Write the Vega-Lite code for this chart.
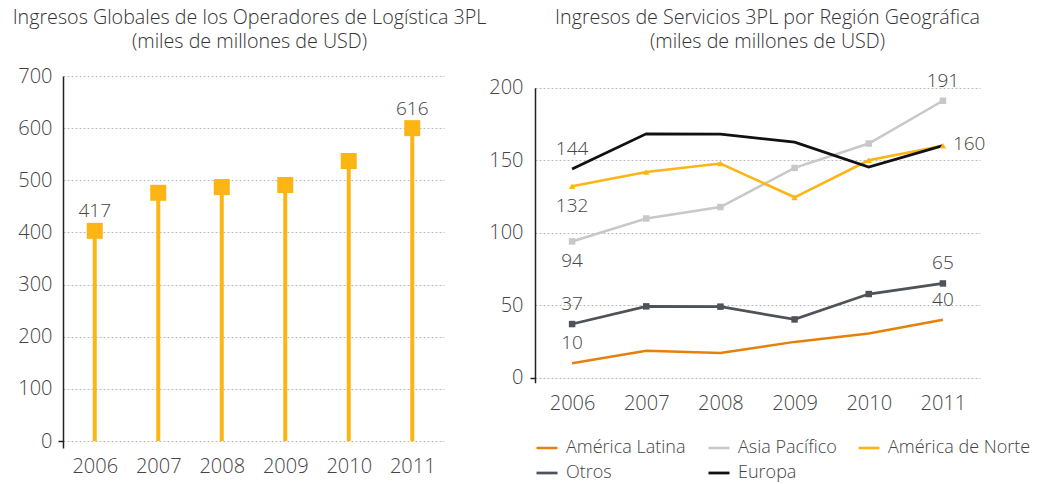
{
  "$schema": "https://vega.github.io/schema/vega-lite/v6.json",
  "padding": {"left": 12, "top": 8, "right": 0, "bottom": 0},
  "spacing": 1,
  "background": "white",
  "hconcat": [
    {
      "width": 381,
      "height": 372,
      "title": {"text": ["Ingresos Globales de los Operadores de Logística 3PL", "(miles de millones de USD)"], "offset": 14, "dx": -4},
      "data": {"values": [
        {"year": "2006", "value": 403, "label": "417"},
        {"year": "2007", "value": 476, "label": null},
        {"year": "2008", "value": 487, "label": null},
        {"year": "2009", "value": 491, "label": null},
        {"year": "2010", "value": 537, "label": null},
        {"year": "2011", "value": 600, "label": "616"}
      ]},
      "encoding": {
        "x": {"field": "year", "type": "ordinal", "scale": {"type": "point", "padding": 0.5},
          "axis": {"domain": false, "ticks": false, "grid": false, "labelPadding": 8, "labelAngle": 0, "title": null}}
      },
      "layer": [
        {
          "mark": {"type": "rule", "color": "#FDB515", "strokeWidth": 4},
          "encoding": {
            "y": {"field": "value", "type": "quantitative", "scale": {"domain": [-13.4, 700], "nice": false, "zero": false},
              "axis": {"values": [0, 100, 200, 300, 400, 500, 600, 700], "grid": true, "gridDash": [2, 2], "gridColor": "#bbbbbb",
                "domainColor": "#222222", "domainWidth": 1.5, "title": null, "labelPadding": 6, "tickSize": 5, "tickWidth": 1.5,
                "tickColor": {"condition": {"test": "datum.value === 0", "value": "#222222"}, "value": "transparent"}}},
            "y2": {"datum": 0}
          }
        },
        {
          "mark": {"type": "point", "shape": "square", "filled": true, "size": 256, "color": "#FDB515", "opacity": 1},
          "encoding": {"y": {"field": "value", "type": "quantitative"}}
        },
        {
          "transform": [{"filter": "datum.label != null"}],
          "mark": {"type": "text", "dy": -19.5, "fontSize": 19, "color": "#444444"},
          "encoding": {"y": {"field": "value", "type": "quantitative"}, "text": {"field": "label"}}
        },
        {
          "mark": {"type": "rule", "color": "#222222", "strokeWidth": 1.5},
          "encoding": {"y": {"datum": 0, "type": "quantitative"}}
        }
      ]
    },
    {
      "width": 445,
      "height": 306.7,
      "title": {"text": ["Ingresos de Servicios 3PL por Región Geográfica", "(miles de millones de USD)"], "offset": 20, "dx": 10},
      "data": {"values": [
        {"year": "2006", "serie": "América Latina", "value": 10, "label": "10"},
        {"year": "2007", "serie": "América Latina", "value": 18.5, "label": null},
        {"year": "2008", "serie": "América Latina", "value": 17, "label": null},
        {"year": "2009", "serie": "América Latina", "value": 24.7, "label": null},
        {"year": "2010", "serie": "América Latina", "value": 30.5, "label": null},
        {"year": "2011", "serie": "América Latina", "value": 40, "label": "40"},
        {"year": "2006", "serie": "Asia Pacífico", "value": 94, "label": "94"},
        {"year": "2007", "serie": "Asia Pacífico", "value": 109.8, "label": null},
        {"year": "2008", "serie": "Asia Pacífico", "value": 117.7, "label": null},
        {"year": "2009", "serie": "Asia Pacífico", "value": 144.7, "label": null},
        {"year": "2010", "serie": "Asia Pacífico", "value": 161.5, "label": null},
        {"year": "2011", "serie": "Asia Pacífico", "value": 191, "label": "191"},
        {"year": "2006", "serie": "América de Norte", "value": 132, "label": "132"},
        {"year": "2007", "serie": "América de Norte", "value": 141.9, "label": null},
        {"year": "2008", "serie": "América de Norte", "value": 147.7, "label": null},
        {"year": "2009", "serie": "América de Norte", "value": 124.4, "label": null},
        {"year": "2010", "serie": "América de Norte", "value": 150, "label": null},
        {"year": "2011", "serie": "América de Norte", "value": 160, "label": "160"},
        {"year": "2006", "serie": "Otros", "value": 37, "label": "37"},
        {"year": "2007", "serie": "Otros", "value": 49.2, "label": null},
        {"year": "2008", "serie": "Otros", "value": 49, "label": null},
        {"year": "2009", "serie": "Otros", "value": 40.2, "label": null},
        {"year": "2010", "serie": "Otros", "value": 57.7, "label": null},
        {"year": "2011", "serie": "Otros", "value": 65, "label": "65"},
        {"year": "2006", "serie": "Europa", "value": 144, "label": "144"},
        {"year": "2007", "serie": "Europa", "value": 168.2, "label": null},
        {"year": "2008", "serie": "Europa", "value": 168, "label": null},
        {"year": "2009", "serie": "Europa", "value": 162.4, "label": null},
        {"year": "2010", "serie": "Europa", "value": 145.3, "label": null},
        {"year": "2011", "serie": "Europa", "value": 160, "label": null}
      ]},
      "encoding": {
        "x": {"field": "year", "type": "ordinal", "scale": {"type": "point", "padding": 0.5},
          "axis": {"domain": false, "ticks": false, "grid": false, "labelPadding": 11, "labelAngle": 0, "title": null}},
        "y": {"field": "value", "type": "quantitative", "scale": {"domain": [-3.45, 208.07], "nice": false, "zero": false},
          "axis": {"values": [0, 50, 100, 150, 200], "grid": true, "gridDash": [2, 2], "gridColor": "#bbbbbb",
            "domainColor": "#222222", "domainWidth": 1.5, "domainDash": [295, 400], "title": null, "labelPadding": 7, "tickSize": 5, "tickWidth": 1.5,
            "tickColor": {"condition": {"test": "datum.value === 0", "value": "#222222"}, "value": "transparent"}}}
      },
      "layer": [
        {
          "mark": {"type": "rule", "color": "#222222", "strokeWidth": 1.5},
          "encoding": {"y": {"datum": 0, "type": "quantitative"}}
        },
        {
          "mark": {"type": "line"},
          "encoding": {
            "color": {"field": "serie", "type": "nominal",
              "scale": {"domain": ["América Latina", "Asia Pacífico", "América de Norte", "Otros", "Europa"],
                "range": ["#E5800A", "#C8C8C8", "#FDB515", "#4D5358", "#111111"]},
              "legend": {"orient": "none", "legendX": 472, "legendY": 360, "columns": 3, "direction": "horizontal", "title": null, "symbolType": "stroke",
                "symbolSize": 441, "symbolStrokeWidth": 2.5, "labelFontSize": 18, "labelColor": "#444444", "labelOffset": 7,
                "columnPadding": 16, "rowPadding": 4, "labelFont": "Open Sans"}},
            "strokeWidth": {"field": "serie", "type": "nominal",
              "scale": {"domain": ["América Latina", "Asia Pacífico", "América de Norte", "Otros", "Europa"], "range": [2.5, 2.8, 2.2, 2.8, 1.6]},
              "legend": null}
          }
        },
        {
          "transform": [{"filter": "datum.serie === 'Asia Pacífico' || datum.serie === 'Otros' || datum.serie === 'América de Norte'"}],
          "mark": {"type": "point", "filled": true, "opacity": 1, "size": 42},
          "encoding": {
            "color": {"field": "serie", "type": "nominal", "legend": null},
            "shape": {"field": "serie", "type": "nominal",
              "scale": {"domain": ["Asia Pacífico", "Otros", "América de Norte"], "range": ["square", "square", "triangle-up"]},
              "legend": null}
          }
        },
        {
          "transform": [{"filter": "datum.label != null && !((datum.serie === 'América de Norte' || datum.serie === 'Asia Pacífico') && datum.year === '2006') && !(datum.serie === 'América de Norte' && datum.year === '2011')"}],
          "mark": {"type": "text", "dy": -20, "fontSize": 19, "color": "#444444"},
          "encoding": {"text": {"field": "label"}}
        },
        {
          "transform": [{"filter": "(datum.serie === 'América de Norte' || datum.serie === 'Asia Pacífico') && datum.year === '2006'"}],
          "mark": {"type": "text", "dy": 20, "fontSize": 19, "color": "#444444"},
          "encoding": {"text": {"field": "label"}}
        },
        {
          "transform": [{"filter": "datum.serie === 'América de Norte' && datum.year === '2011'"}],
          "mark": {"type": "text", "dx": 10, "dy": -2, "align": "left", "fontSize": 19, "color": "#444444"},
          "encoding": {"text": {"field": "label"}}
        }
      ]
    }
  ],
  "config": {
    "font": "Open Sans",
    "view": {"stroke": null},
    "axis": {"labelFont": "Open Sans", "labelFontSize": 20, "labelColor": "#444444", "labelFontWeight": 300},
    "text": {"fontWeight": 300},
    "legend": {"labelFontWeight": 300},
    "title": {"font": "Open Sans", "fontSize": 19.7, "fontWeight": 300, "color": "#333333", "lineHeight": 24, "anchor": "middle", "frame": "group"}
  }
}
